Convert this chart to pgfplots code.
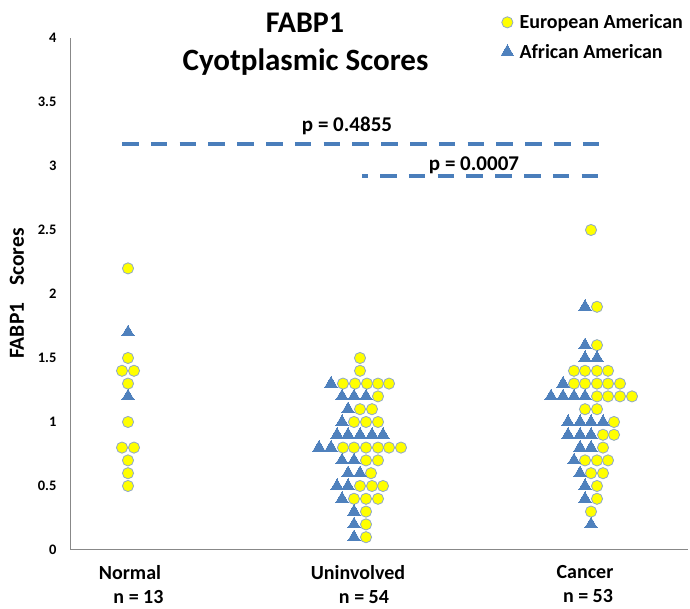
\documentclass[border=0pt]{standalone}
\usepackage{fontspec}
\setmainfont{Carlito}
\usepackage{pgfplots}
\pgfplotsset{compat=1.18}
\definecolor{eayellow}{HTML}{FFFF00}
\definecolor{edgeblue}{HTML}{8FA8C8}
\definecolor{aablue}{HTML}{4F81BD}
\definecolor{dashblue}{HTML}{4A7EBB}
\definecolor{axgray}{HTML}{888888}
\begin{document}
\begin{tikzpicture}[x=1pt,y=1pt]
\useasboundingbox (0,0) rectangle (690,609);
\begin{axis}[
  at={(70pt,59pt)}, anchor=south west,
  scale only axis, width=618pt, height=512pt,
  xmin=70, xmax=688, ymin=0, ymax=4,
  axis lines*=left,
  axis line style={axgray, line width=1pt},
  major tick length=0pt,
  ytick={0,0.5,1,1.5,2,2.5,3,3.5,4},
  xtick={130,358,585},
  xticklabels={{Normal\\\hspace{17pt}n = 13},{Uninvolved\\\hspace{12pt}n = 54},{Cancer\\\hspace{6pt}n = 53}},
  xticklabel style={align=center, font=\bfseries\fontsize{20}{24}\selectfont, yshift=-12pt},
  yticklabel style={font=\bfseries\fontsize{14.5}{17}\selectfont, xshift=-10pt},
  /pgf/number format/assume math mode=true,
  clip=false,
  legend cell align=left,
  legend style={at={(axis description cs:0.6974,1.05)}, anchor=north west, draw=none, fill=none,
    font=\bfseries\fontsize{20}{24}\selectfont, row sep=10pt, inner sep=0pt,
    /tikz/every odd column/.append style={column sep=4pt}},
]
\addplot[forget plot, dashblue, line width=4pt, dash pattern=on 16.5pt off 12.3pt]
  coordinates {(122,3.17) (602,3.17)};
\addplot[forget plot, dashblue, line width=4pt, dash pattern=on 16.5pt off 12.3pt, dash phase=10.8pt]
  coordinates {(362,2.92) (602,2.92)};
% European American (circles)
\addplot[only marks, mark=*, mark size=5.6pt, mark options={fill=eayellow, draw=edgeblue, line width=0.8pt}]
coordinates {
(128,2.2) (128,1.5) (122,1.4) (134,1.4) (128,1.3) (128,1.0) (122,0.8) (134,0.8) (128,0.7) (128,0.6) (128,0.5)
(360,1.5) (360,1.4)
(343,1.3) (355,1.3) (367,1.3) (378,1.3) (389,1.3)
(378,1.2)
(360,1.1) (372,1.1)
(354,1.0) (366,1.0) (378,1.0)
(343,0.8) (354,0.8) (366,0.8) (378,0.8) (389,0.8) (401,0.8)
(366,0.7) (378,0.7)
(371,0.6)
(360,0.5) (372,0.5) (383,0.5)
(354,0.4) (366,0.4) (378,0.4)
(366,0.3) (366,0.2) (366,0.1)
(591,2.5) (597,1.9) (597,1.6)
(574,1.4) (585,1.4) (597,1.4) (608,1.4)
(574,1.3) (585,1.3) (597,1.3) (608,1.3) (620,1.3)
(597,1.2) (608,1.2) (620,1.2) (632,1.2)
(585,1.1) (597,1.1)
(614,1.0)
(603,0.9) (614,0.9)
(603,0.8)
(585,0.7) (597,0.7) (608,0.7)
(591,0.6) (603,0.6)
(597,0.5) (597,0.4) (591,0.3)
};
\addlegendentry{European American}
% African American (triangles)
\addplot[only marks, mark=triangle*, mark size=7.1pt, mark options={fill=aablue, draw=aablue, line width=0pt}]
coordinates {
(128,1.7) (128,1.2)
(331,1.3)
(342,1.2) (354,1.2) (366,1.2)
(348,1.1)
(342,1.0)
(337,0.9) (348,0.9) (360,0.9) (372,0.9) (383,0.9)
(319,0.8) (331,0.8)
(342,0.7) (354,0.7)
(348,0.6) (360,0.6)
(337,0.5) (348,0.5)
(342,0.4)
(354,0.3) (354,0.2) (354,0.1)
(585,1.9) (585,1.6)
(585,1.5) (597,1.5)
(563,1.3)
(551,1.2) (563,1.2) (574,1.2) (585,1.2)
(568,1.0) (580,1.0) (591,1.0) (603,1.0)
(568,0.9) (580,0.9) (591,0.9)
(580,0.8) (591,0.8)
(574,0.7) (580,0.6) (585,0.5) (585,0.4) (591,0.2)
};
\addlegendentry{African American}
\end{axis}
\node[anchor=base, font=\bfseries\fontsize{30}{35}\selectfont, inner sep=0pt] at (305,576) {FABP1};
\node[anchor=base, font=\bfseries\fontsize{31}{36}\selectfont, inner sep=0pt] at (305.5,538) {Cyotplasmic Scores};
\node[rotate=90, font=\bfseries\fontsize{21.5}{25}\selectfont, inner sep=0pt] at (17,315.5) {FABP1\hspace{17pt}Scores};
\node[anchor=base, font=\bfseries\fontsize{21}{25}\selectfont, inner sep=0pt] at (347,477) {p = 0.4855};
\node[anchor=base, font=\bfseries\fontsize{21}{25}\selectfont, inner sep=0pt] at (474,438) {p = 0.0007};
\end{tikzpicture}
\end{document}
